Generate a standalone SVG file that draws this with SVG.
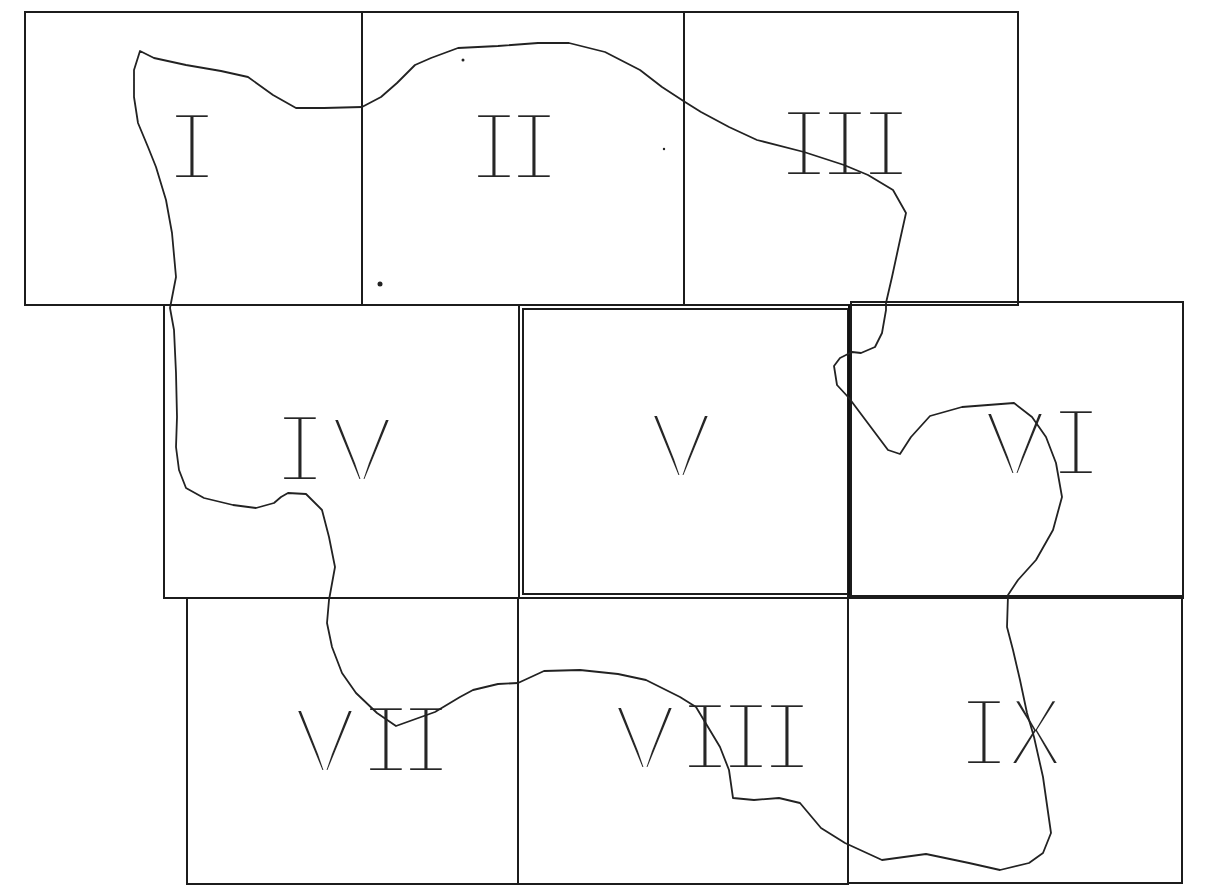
<svg xmlns="http://www.w3.org/2000/svg" width="1232" height="886" viewBox="0 0 1232 886">
<style>
.cell{fill:none;stroke:#1c1c1c;stroke-width:2}
.lbl{font-family:"DejaVu Sans Mono","Liberation Mono",monospace;font-size:93px;fill:#262626;stroke:#ffffff;stroke-width:6;stroke-linejoin:miter;text-anchor:middle}
.v{font-family:"Liberation Sans",Arial,sans-serif;font-size:95px}
.outline{fill:none;stroke:#222;stroke-width:1.8;stroke-linejoin:round}
</style>
<rect width="1232" height="886" fill="#ffffff"/>
<g id="labels">
<text class="lbl" x="192" y="180">I</text>
<text class="lbl" x="494 534" y="180">II</text>
<text class="lbl" x="804 845 886" y="177">III</text>
<text class="lbl" y="482"><tspan x="300">I</tspan><tspan class="v" x="362">V</tspan></text>
<text class="lbl" y="478"><tspan class="v" x="681">V</tspan></text>
<text class="lbl" y="476"><tspan class="v" x="1015">V</tspan><tspan x="1076">I</tspan></text>
<text class="lbl" y="773"><tspan class="v" x="325">V</tspan><tspan x="386 426">II</tspan></text>
<text class="lbl" y="770"><tspan class="v" x="645">V</tspan><tspan x="705 746 787">III</tspan></text>
<text class="lbl" x="984 1035" y="766">IX</text>
</g>
<g id="cell-I"><rect class="cell" x="25" y="12" width="337" height="293"/></g>
<g id="cell-II"><rect class="cell" x="362" y="12" width="322" height="293"/></g>
<g id="cell-III"><rect class="cell" x="684" y="12" width="334" height="293"/></g>
<g id="cell-IV"><rect class="cell" x="164" y="305" width="355" height="293"/></g>
<g id="cell-V">
<rect class="cell" x="519" y="305" width="332" height="293"/>
<rect class="cell" x="523" y="309" width="325" height="285"/>
<line x1="850" y1="305" x2="850" y2="598" stroke="#111" stroke-width="4"/>
</g>
<g id="cell-VI"><rect class="cell" x="851" y="302" width="332" height="296"/></g>
<g id="cell-VII"><rect class="cell" x="187" y="598" width="331" height="286"/></g>
<g id="cell-VIII"><rect class="cell" x="518" y="598" width="330" height="286"/></g>
<g id="cell-IX"><rect class="cell" x="848" y="596" width="334" height="287"/></g>
<g id="connectors">
<path class="outline" d="M140,51 L154,58 L186,65 L221,71 L248,77 L273,95 L296,108 L324,108 L362,107 L381,97 L397,83 L415,65 L431,58 L458,48 L498,46 L538,43 L569,43 L605,52 L640,70 L662,87 L685,102 L701,112 L729,127 L757,140 L804,152 L844,165 L868,175 L893,190 L906,213 L900,240 L892,277 L886,303 L886,310 L882,333 L875,347 L861,353 L852,352 L840,358 L834,366 L837,385 L849,398 L867,422 L888,450 L900,454 L911,437 L930,416 L962,407 L1014,403 L1032,417 L1046,437 L1056,463 L1062,497 L1053,530 L1036,560 L1018,580 L1008,595 L1007,627 L1013,650 L1020,680 L1027,713 L1034,737 L1043,777 L1051,833 L1043,853 L1029,863 L1000,870 L969,863 L926,854 L882,860 L845,843 L821,828 L800,803 L779,798 L754,800 L733,798 L729,770 L720,747 L708,727 L696,707 L680,697 L646,680 L618,674 L580,670 L544,671 L518,683 L498,684 L473,690 L460,697 L435,712 L396,726 L377,713 L356,693 L342,673 L332,647 L327,623 L329,600 L335,567 L329,537 L322,510 L306,494 L288,493 L281,497 L274,503 L256,508 L233,505 L204,498 L186,488 L179,470 L176,447 L177,417 L176,373 L174,330 L170,308 L176,277 L172,233 L166,200 L156,167 L148,147 L138,123 L134,97 L134,70 Z"/>
</g>
<g id="specks" fill="#222">
<circle cx="380" cy="284" r="2.5"/>
<circle cx="463" cy="60" r="1.5"/>
<circle cx="664" cy="149" r="1.2"/>
</g>
</svg>
